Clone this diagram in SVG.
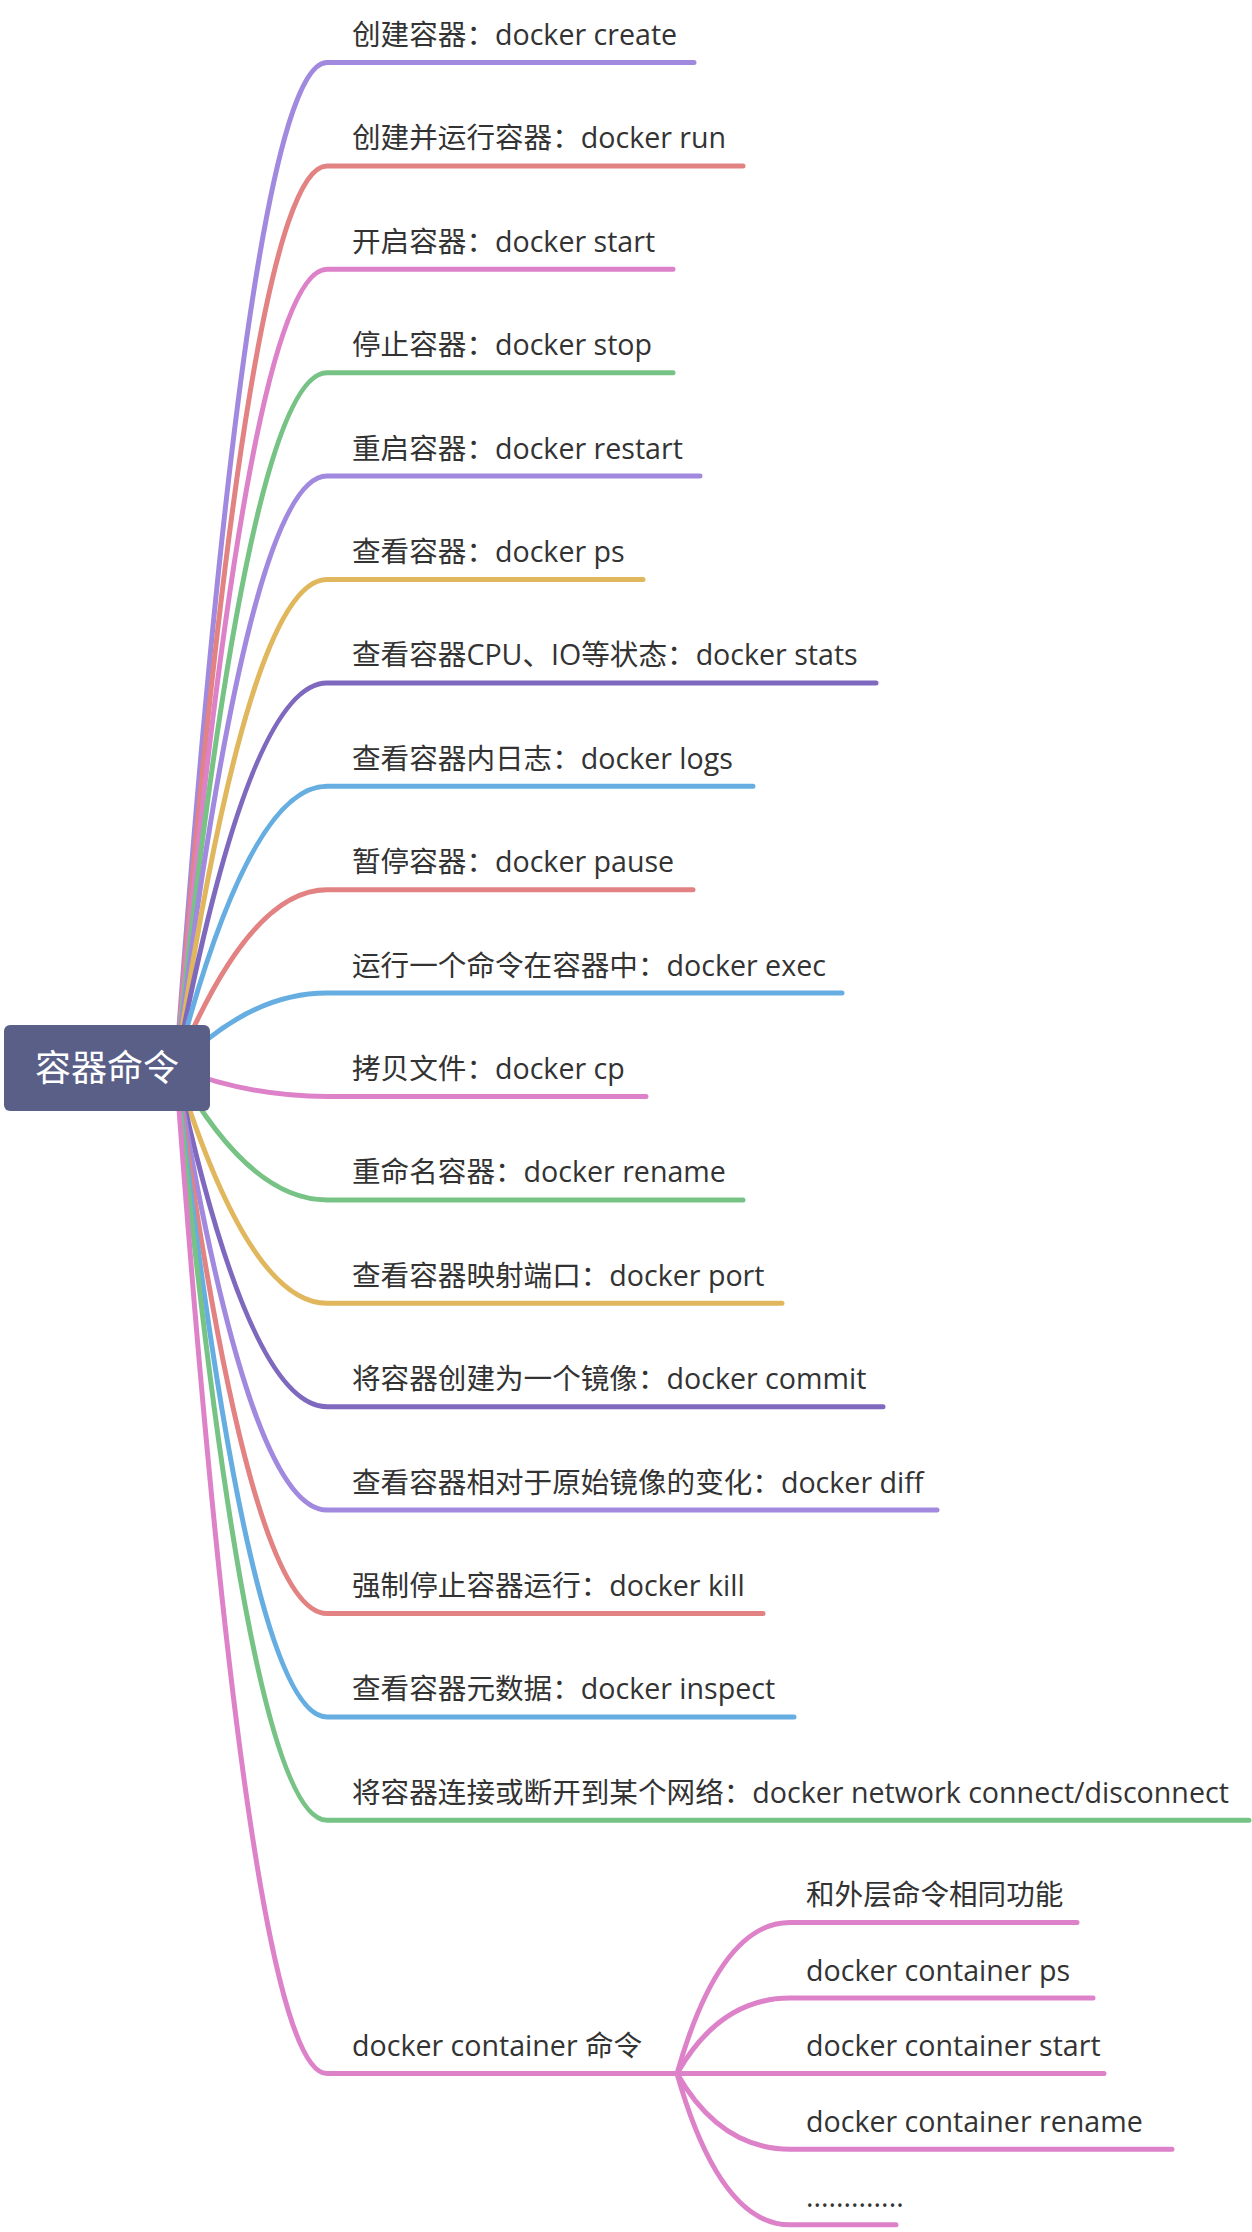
<svg xmlns="http://www.w3.org/2000/svg" width="1252" height="2232" viewBox="0 0 1252 2232">
<style>
.t{font-family:"Open Sans","Noto Sans CJK SC",sans-serif;font-size:28.6px;fill:#333}
.r{font-family:"Noto Sans CJK SC",sans-serif;font-size:36px;fill:#fff;text-anchor:middle}
.c{fill:none;stroke-width:5;stroke-linecap:round;stroke-linejoin:round}
.pu{stroke:#a089de}.re{stroke:#e28282}.pk{stroke:#dd82c9}.gr{stroke:#77c386}.go{stroke:#e1b75e}.dp{stroke:#7f69bf}.bl{stroke:#66aee1}
</style>
<rect width="1252" height="2232" fill="#fff"/>
<g id="connectors">
<path class="c pu" d="M176 1068 Q249 62.5 327 62.5 L694 62.5"/>
<path class="c re" d="M176 1068 Q249 165.9 327 165.9 L743 165.9"/>
<path class="c pk" d="M176 1068 Q249 269.3 327 269.3 L673 269.3"/>
<path class="c gr" d="M176 1068 Q249 372.7 327 372.7 L673 372.7"/>
<path class="c pu" d="M176 1068 Q249 476.1 327 476.1 L700 476.1"/>
<path class="c go" d="M176 1068 Q249 579.5 327 579.5 L643 579.5"/>
<path class="c dp" d="M176 1068 Q249 682.9 327 682.9 L876 682.9"/>
<path class="c bl" d="M176 1068 Q249 786.3 327 786.3 L753 786.3"/>
<path class="c re" d="M176 1068 Q249 889.7 327 889.7 L693 889.7"/>
<path class="c bl" d="M176 1068 Q249 993.1 327 993.1 L842 993.1"/>
<path class="c pk" d="M176 1068 Q249 1096.5 327 1096.5 L646 1096.5"/>
<path class="c gr" d="M176 1068 Q249 1199.9 327 1199.9 L743 1199.9"/>
<path class="c go" d="M176 1068 Q249 1303.3 327 1303.3 L782 1303.3"/>
<path class="c dp" d="M176 1068 Q249 1406.7 327 1406.7 L883 1406.7"/>
<path class="c pu" d="M176 1068 Q249 1510.1 327 1510.1 L937 1510.1"/>
<path class="c re" d="M176 1068 Q249 1613.5 327 1613.5 L763 1613.5"/>
<path class="c bl" d="M176 1068 Q249 1716.9 327 1716.9 L794 1716.9"/>
<path class="c gr" d="M176 1068 Q249 1820.3 327 1820.3 L1249 1820.3"/>
<path class="c pk" d="M176 1068 Q249 2073.6 327 2073.6 L677 2073.6"/>
<path class="c pk" d="M677 2073.6 Q720 1922.5 790 1922.5 L1077 1922.5"/>
<path class="c pk" d="M677 2073.6 Q720 1998.1 790 1998.1 L1093 1998.1"/>
<path class="c pk" d="M677 2073.6 L1104 2073.6"/>
<path class="c pk" d="M677 2073.6 Q720 2149.2 790 2149.2 L1172 2149.2"/>
<path class="c pk" d="M677 2073.6 Q720 2224.8 790 2224.8 L896 2224.8"/>
</g>
<g id="root"><rect x="4" y="1025" width="206" height="86" rx="6" fill="#5a5f88"/><text class="r" x="107" y="1081">容器命令</text></g>
<g id="n1"><text class="t" x="352" y="45">创建容器：docker create</text></g>
<g id="n2"><text class="t" x="352" y="148.4">创建并运行容器：docker run</text></g>
<g id="n3"><text class="t" x="352" y="251.8">开启容器：docker start</text></g>
<g id="n4"><text class="t" x="352" y="355.2">停止容器：docker stop</text></g>
<g id="n5"><text class="t" x="352" y="458.6">重启容器：docker restart</text></g>
<g id="n6"><text class="t" x="352" y="562">查看容器：docker ps</text></g>
<g id="n7"><text class="t" x="352" y="665.4">查看容器CPU、IO等状态：docker stats</text></g>
<g id="n8"><text class="t" x="352" y="768.8">查看容器内日志：docker logs</text></g>
<g id="n9"><text class="t" x="352" y="872.2">暂停容器：docker pause</text></g>
<g id="n10"><text class="t" x="352" y="975.6">运行一个命令在容器中：docker exec</text></g>
<g id="n11"><text class="t" x="352" y="1079">拷贝文件：docker cp</text></g>
<g id="n12"><text class="t" x="352" y="1182.4">重命名容器：docker rename</text></g>
<g id="n13"><text class="t" x="352" y="1285.8">查看容器映射端口：docker port</text></g>
<g id="n14"><text class="t" x="352" y="1389.2">将容器创建为一个镜像：docker commit</text></g>
<g id="n15"><text class="t" x="352" y="1492.6">查看容器相对于原始镜像的变化：docker diff</text></g>
<g id="n16"><text class="t" x="352" y="1596">强制停止容器运行：docker kill</text></g>
<g id="n17"><text class="t" x="352" y="1699.4">查看容器元数据：docker inspect</text></g>
<g id="n18"><text class="t" x="352" y="1802.8">将容器连接或断开到某个网络：docker network connect/disconnect</text></g>
<g id="n19"><text class="t" x="352" y="2056.1">docker container 命令</text></g>
<g id="n20"><text class="t" x="806" y="1905">和外层命令相同功能</text></g>
<g id="n21"><text class="t" x="806" y="1980.6">docker container ps</text></g>
<g id="n22"><text class="t" x="806" y="2056.1">docker container start</text></g>
<g id="n23"><text class="t" x="806" y="2131.7">docker container rename</text></g>
<g id="n24"><text class="t" x="806" y="2207.3">.............</text></g>
</svg>
